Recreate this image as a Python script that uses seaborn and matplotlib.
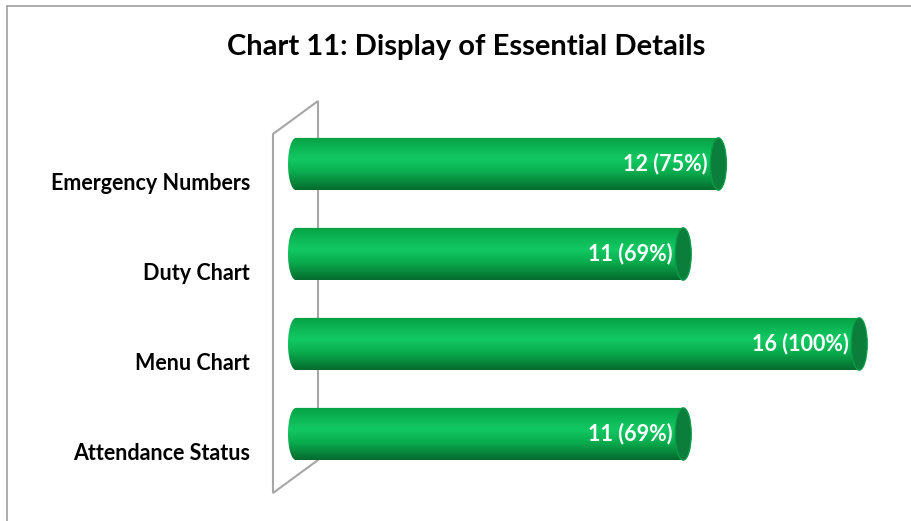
import numpy as np
import pandas as pd
import seaborn as sns
from matplotlib import pyplot as plt
from matplotlib.patches import Ellipse, Polygon
from matplotlib.lines import Line2D
from matplotlib.colors import LinearSegmentedColormap
from matplotlib.transforms import ScaledTranslation

categories = ["Emergency Numbers", "Duty Chart", "Menu Chart", "Attendance Status"]
counts = [12, 11, 16, 11]
percents = [75, 69, 100, 69]

df = pd.DataFrame({"Item": categories, "Count": counts})

sns.set_theme(style="white")
plt.rcParams['font.family'] = ['Lato', 'DejaVu Sans']

px = 35.2  # pixels per unit
xmin, xmax = -0.3, 17
fig = plt.figure(figsize=(9.11, 5.21), dpi=100)
ax = fig.add_axes([(296 + xmin * px) / 911, 42 / 521, (xmax - xmin) * px / 911, 360 / 521])
ax.patch.set_visible(False)

bar_h = 0.58
sns.barplot(data=df, x="Count", y="Item", orient="h", width=bar_h,
            color="#0CA84A", ax=ax)

# green cylinder look
cap = 8 / px  # half-width of elliptical caps in data units
cmap = LinearSegmentedColormap.from_list("cyl", [
    (0.0, "#07A043"), (0.25, "#0DBA58"), (0.42, "#12C962"),
    (0.65, "#0AAE4F"), (0.85, "#07893C"), (1.0, "#046A2D")])
img = np.linspace(0, 1, 200).reshape(-1, 1)

for patch, n, p in zip(ax.patches, counts, percents):
    x0, y0 = patch.get_x(), patch.get_y()
    w, h = patch.get_width(), patch.get_height()
    x1, y1 = x0 + w, y0 + h
    yc = y0 + h / 2
    patch.set_visible(False)
    t = np.linspace(np.pi / 2, 3 * np.pi / 2, 40)
    left = np.column_stack([x0 + cap * np.cos(t), yc - (h / 2) * np.sin(t)])
    pts = np.vstack([[[x1, y0]], left, [[x1, y1]]])
    clip = Polygon(pts, closed=True, transform=ax.transData, facecolor="none", edgecolor="none")
    ax.add_patch(clip)
    im = ax.imshow(img, cmap=cmap, extent=[x0 - cap, x1, y1, y0], aspect="auto",
                   interpolation="bicubic", zorder=2)
    im.set_clip_path(clip)
    ax.add_patch(Ellipse((x1, yc), 2 * cap, h, facecolor="#0A7E3A",
                         edgecolor="#0B9A48", lw=1.0, zorder=3))
    ax.text(x1 - cap - 0.08, yc, f"{n} ({p}%)", ha="right", va="center",
            color="white", fontsize=15.5, fontweight="bold", zorder=4)

ax.set_xlim(xmin, xmax)
ax.set_ylim(3.5, -0.5)
ax.set_xlabel("")
ax.set_ylabel("")
ax.set_xticks([])
sns.despine(ax=ax, left=True, bottom=True)
ax.tick_params(axis="y", length=0, pad=33 - 0.3 * px * 0.72)
for lab in ax.get_yticklabels():
    lab.set_fontweight("bold")
    lab.set_fontsize(15.5)
    lab.set_color("black")
    lab.set_transform(lab.get_transform() + ScaledTranslation(0, -0.18, fig.dpi_scale_trans))

# back wall of the 3-D plot area
wall = [(273, 134), (318, 101), (318, 460), (273, 493)]
fig.add_artist(Polygon([(x / 911, 1 - y / 521) for x, y in wall], closed=True,
                       fill=False, edgecolor="#A6A6A6", lw=1.5,
                       transform=fig.transFigure, zorder=-1))

# chart area border
fig.add_artist(Line2D([7 / 911, 7 / 911], [0, 1 - 6 / 521], color="#A0A0A0", lw=1.2,
                      transform=fig.transFigure))
fig.add_artist(Line2D([7 / 911, 1], [1 - 6 / 521, 1 - 6 / 521], color="#A0A0A0", lw=1.2,
                      transform=fig.transFigure))

fig.text(466 / 911, 1 - 47 / 521, "Chart 11: Display of Essential Details",
         ha="center", va="center", fontsize=21, fontweight="bold", color="black")

fig.savefig("out.png", dpi=100, facecolor="white")
